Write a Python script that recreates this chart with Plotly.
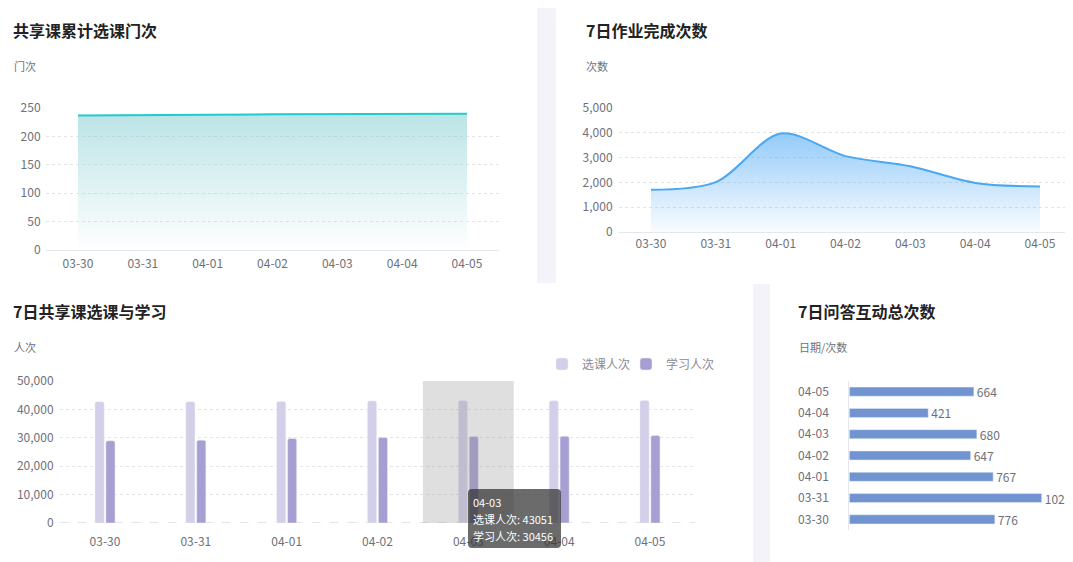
import plotly.graph_objects as go

# ---------------- data ----------------
dates = ["03-30", "03-31", "04-01", "04-02", "04-03", "04-04", "04-05"]
course_total = [237, 237, 238, 239, 239, 240, 240]          # 共享课累计选课门次
homework = [1700, 2010, 3970, 3060, 2650, 1980, 1830]        # 7日作业完成次数
select_cnt = [42700, 42700, 42800, 43000, 43051, 43050, 43100]  # 选课人次
study_cnt = [28950, 29180, 29760, 30110, 30456, 30570, 30800]   # 学习人次
qa_cnt = [776, 1026, 767, 647, 680, 421, 664]                # 7日问答互动总次数

titles = ["共享课累计选课门次", "7日作业完成次数", "7日共享课选课与学习", "7日问答互动总次数"]
units = ["门次", "次数", "人次", "日期/次数"]
series_names = ["选课人次", "学习人次"]
hover_date = "04-03"

# ---------------- helpers ----------------
# The page body keeps its default 8px margin, so the figure is drawn 8px
# smaller and all window-pixel positions are shifted by that offset.
OFF = 8
WIN_W, WIN_H = 1073, 562
W, H = WIN_W - OFF, WIN_H - OFF
FONT = "Noto Sans CJK SC, Noto Sans, sans-serif"
TICK = dict(family=FONT, size=12, color="#6e7079")
GRID = "#e4e4e4"


def fx(p):
    return (p - OFF) / W


def fy(p):
    return 1 - (p - OFF) / H


fig = go.Figure()

# chart 1: cumulative courses (area)
fig.add_trace(go.Scatter(
    x=dates, y=course_total, xaxis="x", yaxis="y", mode="lines",
    line=dict(color="#22cbcb", width=2), fill="tozeroy",
    fillgradient=dict(type="vertical", start=0, stop=max(course_total),
                      colorscale=[[0, "rgba(120,200,205,0.0)"], [1, "rgba(120,200,205,0.5)"]]),
    showlegend=False, hoverinfo="skip"))

# chart 2: homework (smooth area)
fig.add_trace(go.Scatter(
    x=dates, y=homework, xaxis="x2", yaxis="y2", mode="lines",
    line=dict(color="#4ba7f2", width=2, shape="spline", smoothing=0.9), fill="tozeroy",
    fillgradient=dict(type="vertical", start=0, stop=max(homework),
                      colorscale=[[0, "rgba(70,165,245,0.03)"], [1, "rgba(70,165,245,0.58)"]]),
    showlegend=False, hoverinfo="skip"))

# chart 3: grouped bars
fig.add_trace(go.Bar(
    x=dates, y=select_cnt, xaxis="x3", yaxis="y3", name=series_names[0], legend="legend",
    marker=dict(color="#d3cfe9", cornerradius=2), offset=-0.11, width=0.1,
    hoverinfo="skip"))
fig.add_trace(go.Bar(
    x=dates, y=study_cnt, xaxis="x3", yaxis="y3", name=series_names[1], legend="legend2",
    marker=dict(color="#a79fd2", cornerradius=2), offset=0.01, width=0.1,
    hoverinfo="skip"))

# chart 4: horizontal bars
fig.add_trace(go.Bar(
    y=dates, x=qa_cnt, xaxis="x4", yaxis="y4", orientation="h",
    marker=dict(color="#7194d1"), width=0.425,
    text=qa_cnt, textposition="outside", cliponaxis=False, constraintext="none",
    textfont=dict(family=FONT, size=12, color="#6e7079"),
    showlegend=False, hoverinfo="skip"))

cat_axis = dict(type="category", range=[-0.5, 6.5], showgrid=False, zeroline=False,
                ticks="", tickfont=TICK, fixedrange=True)
val_axis = dict(showgrid=True, gridcolor=GRID, griddash="dot", gridwidth=1,
                zeroline=False, showline=False, ticks="", tickfont=TICK, fixedrange=True)

leg_common = dict(orientation="h", xanchor="left", yanchor="middle",
                  font=dict(family=FONT, size=12, color="#8a8a96"),
                  bgcolor="rgba(0,0,0,0)")

fig.update_layout(
    width=W, height=H, margin=dict(l=0, r=0, t=0, b=0, pad=0, autoexpand=False),
    paper_bgcolor="white", plot_bgcolor="rgba(0,0,0,0)",
    font=dict(family=FONT, size=12, color="#6e7079"),
    barmode="overlay",
    xaxis=dict(cat_axis, domain=[fx(45.6), fx(499.4)], anchor="y",
               showline=True, linecolor="#e6e6ee", ticklabelstandoff=3),
    yaxis=dict(val_axis, domain=[fy(250), fy(108)], anchor="x", range=[0, 250], dtick=50,
               ticklabelstandoff=4),
    xaxis2=dict(cat_axis, domain=[fx(618.6), fx(1072.4)], anchor="y2",
                showline=True, linecolor="#e6e6ee", ticklabelstandoff=1),
    yaxis2=dict(val_axis, domain=[fy(232), fy(108)], anchor="x2", range=[0, 5000], dtick=1000,
                tickformat=",", ticklabelstandoff=5),
    xaxis3=dict(cat_axis, domain=[fx(59.6), fx(695.4)], anchor="y3", showline=False,
                ticklabelstandoff=10),
    yaxis3=dict(val_axis, domain=[fy(523), fy(381)], anchor="x3", range=[0, 50000], dtick=10000,
                tickformat=",", ticklabelstandoff=5),
    xaxis4=dict(domain=[fx(849.3), fx(1060)], anchor="y4", range=[0, 1123.5], visible=False,
                fixedrange=True),
    yaxis4=dict(cat_axis, domain=[fy(530), fy(381)], anchor="x4", showline=True,
                linecolor="#e6e6ee", ticklabelstandoff=17),
    legend=dict(leg_common, x=fx(542), y=fy(364)),
    legend2=dict(leg_common, x=fx(626), y=fy(364)),
)

shapes = []
# panel separators
shapes.append(dict(type="rect", xref="paper", yref="paper", x0=fx(537), x1=fx(556),
                   y0=fy(283), y1=fy(8), fillcolor="#f3f3f9", line=dict(width=0), layer="below"))
shapes.append(dict(type="rect", xref="paper", yref="paper", x0=fx(753), x1=fx(770),
                   y0=0, y1=fy(284), fillcolor="#f3f3f9", line=dict(width=0), layer="below"))
# dashed baseline of bar chart
shapes.append(dict(type="line", xref="x3 domain", yref="y3", x0=0, x1=1, y0=0, y1=0,
                   line=dict(color="#dcdbe8", width=1.5, dash="dash"), layer="below"))
# hover shadow on the hovered category
hi = dates.index(hover_date)
shapes.append(dict(type="rect", xref="x3", yref="y3", x0=hi - 0.5, x1=hi + 0.5, y0=0, y1=50000,
                   fillcolor="rgba(150,150,150,0.3)", line=dict(width=0), layer="above"))
# tooltip box (rounded)
bx0, bx1, by0, by1, r = fx(468), fx(561), fy(548), fy(489), 4
rx, ry = r / W, r / H
path = (f"M{bx0+rx},{by1} L{bx1-rx},{by1} Q{bx1},{by1} {bx1},{by1-ry} "
        f"L{bx1},{by0+ry} Q{bx1},{by0} {bx1-rx},{by0} L{bx0+rx},{by0} "
        f"Q{bx0},{by0} {bx0},{by0+ry} L{bx0},{by1-ry} Q{bx0},{by1} {bx0+rx},{by1} Z")
shapes.append(dict(type="path", xref="paper", yref="paper", path=path,
                   fillcolor="rgba(50,50,50,0.72)", line=dict(width=0), layer="above"))
fig.update_layout(shapes=shapes)

ann = []
title_pos = [(11, 30), (584, 30), (11, 311), (796, 311)]
unit_pos = [(12, 66), (584, 66), (12, 347), (797, 347)]
for t, (x, y) in zip(titles, title_pos):
    ann.append(dict(text=f"<b>{t}</b>", x=fx(x), y=fy(y), xref="paper", yref="paper",
                    xanchor="left", yanchor="middle", showarrow=False,
                    font=dict(family=FONT, size=16, color="#222222")))
for t, (x, y) in zip(units, unit_pos):
    ann.append(dict(text=t, x=fx(x), y=fy(y), xref="paper", yref="paper",
                    xanchor="left", yanchor="middle", showarrow=False,
                    font=dict(family=FONT, size=11, color="#6e7079")))
tip_lines = [hover_date,
             f"{series_names[0]}: {select_cnt[hi]}",
             f"{series_names[1]}: {study_cnt[hi]}"]
for i, t in enumerate(tip_lines):
    ann.append(dict(text=t, x=fx(471), y=fy(502 + 17 * i), xref="paper", yref="paper",
                    xanchor="left", yanchor="middle", showarrow=False,
                    font=dict(family=FONT, size=11, color="#ffffff")))
fig.update_layout(annotations=ann)

fig.write_html("out.html")
